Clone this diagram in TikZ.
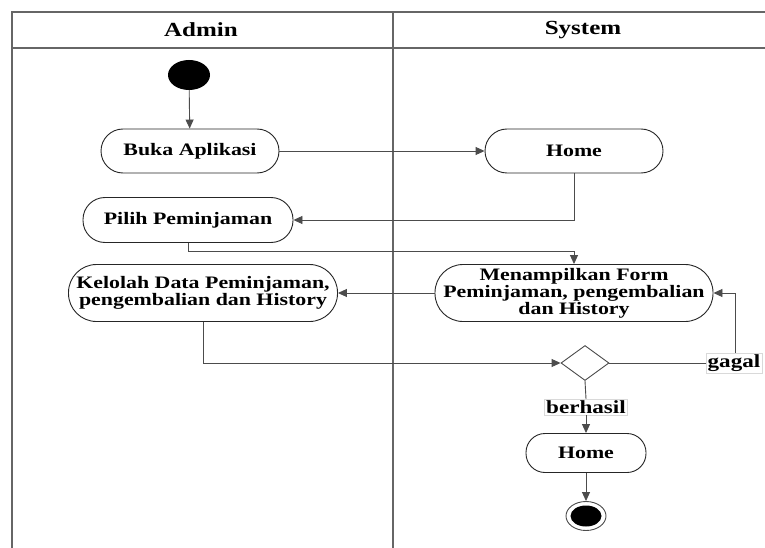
\documentclass[tikz,border=0pt]{standalone}
\usepackage{fontspec}
\setmainfont{Liberation Serif}[FakeStretch=1.25]
\usetikzlibrary{arrows.meta,shapes.geometric}
\begin{document}
\begin{tikzpicture}[x=1pt,y=-1pt,
  lane/.style={draw=black!60,line width=1.4pt},
  act/.style={draw=black!85,line width=0.9pt,fill=white,align=center,inner sep=0pt,
    font=\fontsize{17.5}{17}\selectfont\bfseries},
  flow/.style={draw=black!70,line width=0.9pt,-{Triangle[length=9pt,width=8pt]}},
  plain/.style={draw=black!70,line width=0.9pt},
  guard/.style={fill=white,draw=black!15,inner sep=1.5pt,font=\fontsize{18.5}{18}\selectfont\bfseries},
  head/.style={font=\fontsize{20}{20}\selectfont\bfseries}]
\useasboundingbox (0,0) rectangle (765,548);
\fill[white] (0,0) rectangle (765,548);

% swimlane frame
\draw[lane] (765,12) -- (12,12) -- (12,548);
\draw[lane] (12,48) -- (765,48);
\draw[lane] (393,12) -- (393,548);
\node[head] (hAdmin) at (201,30) {Admin};
\node[head] (hSystem) at (583,30) {System};

% activities
\node[ellipse,fill=black,minimum width=42pt,minimum height=30pt,inner sep=0pt] (start) at (189,75) {};
\node[act,rounded corners=22pt,minimum width=178pt,minimum height=44pt] (buka) at (190,151) {Buka Aplikasi};
\node[act,rounded corners=22pt,minimum width=178pt,minimum height=44pt] (home) at (574,151) {Home};
\node[act,rounded corners=22pt,minimum width=210pt,minimum height=45pt] (pilih) at (188,220) {Pilih Peminjaman};
\node[act,rounded corners=28pt,minimum width=278pt,minimum height=57pt] (form) at (574,293) {Menampilkan Form\\Peminjaman, pengembalian\\dan History};
\node[act,rounded corners=28pt,minimum width=269pt,minimum height=57pt] (kelola) at (203,293) {Kelolah Data Peminjaman,\\pengembalian dan History};
\node[diamond,draw=black!70,line width=0.9pt,fill=white,minimum width=48pt,minimum height=35pt,inner sep=0pt] (dec) at (585,363) {};
\node[act,rounded corners=19pt,minimum width=120pt,minimum height=39pt] (home2) at (586,453) {Home};
\node[ellipse,draw=black!70,line width=0.9pt,fill=white,minimum width=40pt,minimum height=29pt,inner sep=0pt] (final) at (586,516) {};
\node[ellipse,fill=black,minimum width=31pt,minimum height=21pt,inner sep=0pt] (finaldot) at (final) {};

% guard labels
\node[guard] (gagal) at (734,363) {gagal};
\node[guard] (berhasil) at (586,407) {berhasil};

% control flow
\draw[flow] (start) -- (buka);
\draw[flow] (buka) -- (home);
\draw[flow] (home.south) |- (pilih.east);
\draw[flow] (pilih.south) -- ++(0,8) -| (form.north);
\draw[flow] (form.west) -- (kelola.east);
\draw[flow] (kelola.south) |- (dec.west);
\draw[plain] (dec.east) -- (dec.east -| gagal.west);
\coordinate (loop) at (735,353);
\draw[flow] (loop) |- (form.east);
\draw[plain] (dec.south) -- (berhasil.north);
\draw[flow] (berhasil.south) -- (home2.north);
\draw[flow] (home2.south) -- (final.north);
\end{tikzpicture}
\end{document}
